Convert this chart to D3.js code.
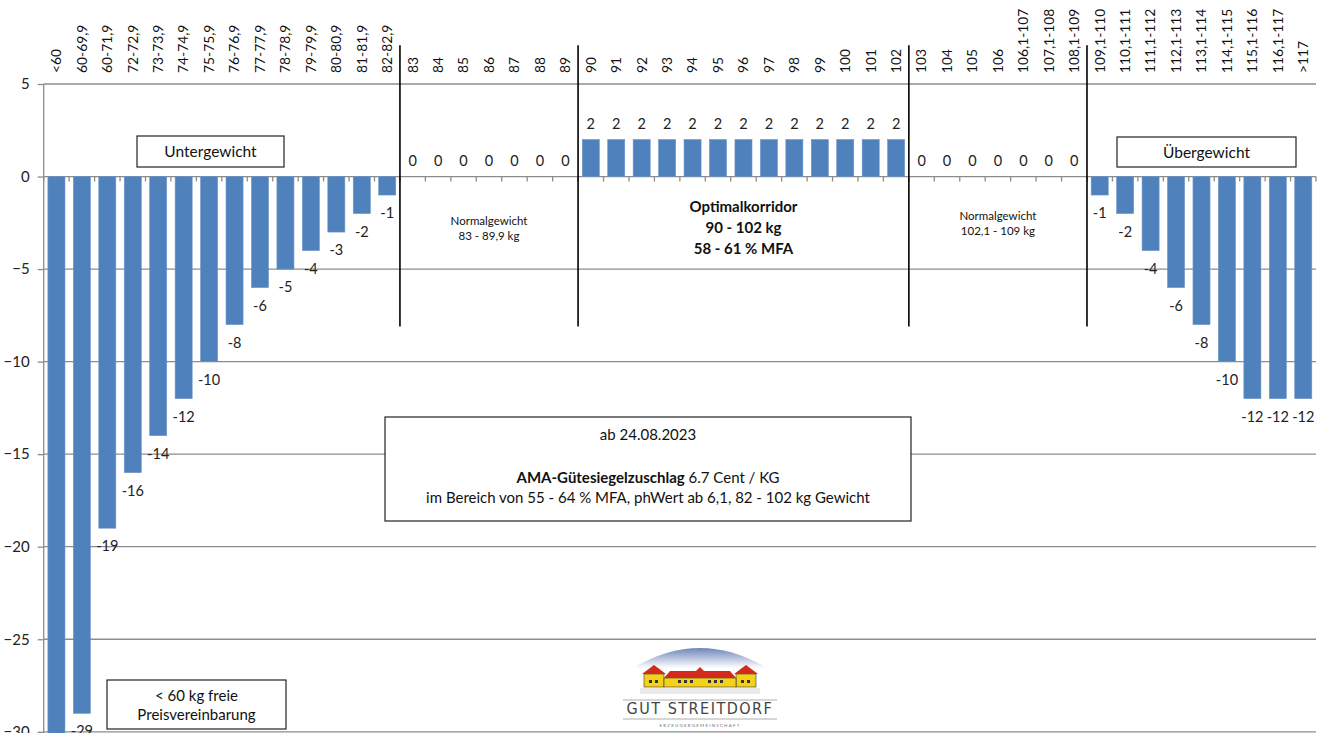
<!DOCTYPE html>
<html>
<head>
<meta charset="utf-8">
<script src="https://cdn.jsdelivr.net/npm/d3@7"></script>
<style>
  body { margin: 0; background: #fff; }
  svg { display: block; font-family: Lato, "Open Sans", sans-serif; }
</style>
</head>
<body>
<svg id="canvas"></svg>
<script>
// Gewichtsklassen (kg) and Abzug/Zuschlag per class
const categories = [
  '<60', '60-69,9', '60-71,9', '72-72,9', '73-73,9', '74-74,9', '75-75,9', '76-76,9',
  '77-77,9', '78-78,9', '79-79,9', '80-80,9', '81-81,9', '82-82,9',
  '83', '84', '85', '86', '87', '88', '89',
  '90', '91', '92', '93', '94', '95', '96', '97', '98', '99', '100', '101', '102',
  '103', '104', '105', '106', '106,1-107', '107,1-108', '108,1-109',
  '109,1-110', '110,1-111', '111,1-112', '112,1-113', '113,1-114', '114,1-115',
  '115,1-116', '116,1-117', '>117'
];
const values = [
  -35, -29, -19, -16, -14, -12, -10, -8, -6, -5, -4, -3, -2, -1,
  0, 0, 0, 0, 0, 0, 0,
  2, 2, 2, 2, 2, 2, 2, 2, 2, 2, 2, 2, 2,
  0, 0, 0, 0, 0, 0, 0,
  -1, -2, -4, -6, -8, -10, -12, -12, -12
];
const yTicks = [5, 0, -5, -10, -15, -20, -25, -30];
// category index where a zone boundary line is drawn
const zoneBreaks = [14, 21, 34, 41];

let width = 1325;
let height = 733;

let canvas = d3.select('#canvas');
canvas.attr('width', width).attr('height', height);

let xScale = d3.scaleBand()
    .domain(categories)
    .range([43.7, 1316])
    .paddingInner(0.33)
    .paddingOuter(0.165);

let yScale = d3.scaleLinear()
    .domain([5, -30])
    .range([84, 731.8]);

const step = xScale.step();
const x0 = xScale.range()[0];
const boundary = (i) => x0 + i * step;

// gridlines
canvas.append('g')
    .selectAll('line')
    .data(yTicks)
    .enter()
    .append('line')
    .attr('x1', x0)
    .attr('x2', xScale.range()[1])
    .attr('y1', (d) => yScale(d))
    .attr('y2', (d) => yScale(d))
    .attr('stroke', '#8c8c8c')
    .attr('stroke-width', 1.3);

// y axis
let yAxis = d3.axisLeft(yScale)
    .tickValues(yTicks)
    .tickSizeInner(6)
    .tickSizeOuter(0)
    .tickPadding(8);

let yG = canvas.append('g')
    .attr('transform', 'translate(' + x0 + ', 0)')
    .call(yAxis);
yG.select('.domain').attr('stroke', '#8c8c8c').attr('stroke-width', 1.3)
    .attr('d', 'M0,' + yScale(5) + 'V' + height);
yG.selectAll('.tick line').attr('stroke', '#8c8c8c').attr('stroke-width', 1.3);
yG.selectAll('.tick text').attr('font-size', 15).attr('fill', '#222')
    .attr('font-family', 'Lato, sans-serif');

// small ticks along zero line between categories
canvas.append('g')
    .selectAll('line')
    .data(d3.range(0, categories.length + 1))
    .enter()
    .append('line')
    .attr('x1', (i) => boundary(i))
    .attr('x2', (i) => boundary(i))
    .attr('y1', yScale(0))
    .attr('y2', yScale(0) + 5)
    .attr('stroke', '#8c8c8c')
    .attr('stroke-width', 1.3);

// bars
canvas.append('g')
    .selectAll('rect')
    .data(values)
    .enter()
    .append('rect')
    .attr('x', (d, i) => xScale(categories[i]))
    .attr('width', xScale.bandwidth())
    .attr('y', (d) => yScale(Math.max(0, d)))
    .attr('height', (d) => Math.abs(yScale(d) - yScale(0)))
    .attr('fill', '#4f81bd')
    .attr('stroke', '#6d95c9')
    .attr('stroke-width', 0.6);

// value labels
canvas.append('g')
    .selectAll('text')
    .data(values)
    .enter()
    .append('text')
    .attr('x', (d, i) => xScale(categories[i]) + xScale.bandwidth() / 2)
    .attr('y', (d) => d < 0 ? yScale(d) + 18 : yScale(d) - 16)
    .attr('dy', '0.35em')
    .attr('text-anchor', 'middle')
    .attr('font-size', 14.5)
    .attr('fill', '#222')
    .text((d) => d);

// category labels, rotated
canvas.append('g')
    .selectAll('text')
    .data(categories)
    .enter()
    .append('text')
    .attr('transform', (d) => 'translate(' + (xScale(d) + xScale.bandwidth() / 2) + ',73) rotate(-90)')
    .attr('dy', '0.35em')
    .attr('text-anchor', 'start')
    .attr('font-size', 13.8)
    .attr('fill', '#111')
    .text((d) => d);

// zone boundary lines
canvas.append('g')
    .selectAll('line')
    .data(zoneBreaks)
    .enter()
    .append('line')
    .attr('x1', (i) => boundary(i))
    .attr('x2', (i) => boundary(i))
    .attr('y1', yScale(7.1))
    .attr('y2', yScale(-8.1))
    .attr('stroke', '#000')
    .attr('stroke-width', 1.6);

// zone texts
function multiText (cx, cy, lines, size, weight, lh) {
    let t = canvas.append('text')
        .attr('text-anchor', 'middle')
        .attr('font-size', size)
        .attr('font-weight', weight)
        .attr('fill', '#111');
    lines.forEach((l, k) => {
        t.append('tspan').attr('x', cx).attr('y', cy + k * lh).attr('dy', '0.35em').text(l);
    });
    return t;
}

multiText((boundary(14) + boundary(21)) / 2, 221, ['Normalgewicht', '83 - 89,9 kg'], 11.5, 400, 15);
multiText((boundary(21) + boundary(34)) / 2, 207, ['Optimalkorridor', '90 - 102 kg', '58 - 61 % MFA'], 15, 700, 21);
multiText((boundary(34) + boundary(41)) / 2, 216, ['Normalgewicht', '102,1 - 109 kg'], 11.5, 400, 15);

// boxed notes
function box (x, y, w, h) {
    canvas.append('rect')
        .attr('x', x).attr('y', y).attr('width', w).attr('height', h)
        .attr('fill', '#fff').attr('stroke', '#222').attr('stroke-width', 1.2);
}

box(137, 136, 147, 31);
multiText(210.5, 152, ['Untergewicht'], 15.5, 400, 0);

box(1117, 137, 179, 30);
multiText(1206.5, 153, ['Übergewicht'], 15.5, 400, 0);

box(107, 680, 179, 49);
multiText(196.5, 696, ['< 60 kg freie', 'Preisvereinbarung'], 15, 400, 19);

box(385, 417, 526, 104);
multiText(648, 435, ['ab 24.08.2023'], 15, 400, 0);
let ama = canvas.append('text')
    .attr('x', 648).attr('y', 478).attr('dy', '0.35em')
    .attr('text-anchor', 'middle').attr('font-size', 15).attr('fill', '#111');
ama.append('tspan').attr('font-weight', 700).text('AMA-Gütesiegelzuschlag');
ama.append('tspan').text(' 6.7 Cent / KG');
multiText(648, 498, ['im Bereich von 55 - 64 % MFA, phWert ab 6,1, 82 - 102 kg Gewicht'], 15, 400, 0);

// logo
let logo = canvas.append('g').attr('transform', 'translate(700, 690)');
let defs = canvas.append('defs');
let grad = defs.append('linearGradient').attr('id', 'sky').attr('x1', 0).attr('y1', 0).attr('x2', 0).attr('y2', 1);
grad.append('stop').attr('offset', 0).attr('stop-color', '#6f86b8');
grad.append('stop').attr('offset', 1).attr('stop-color', '#ffffff');
logo.append('rect').attr('x', -82).attr('y', -45).attr('width', 164).attr('height', 45).attr('fill', '#fff');
logo.append('path')
    .attr('d', 'M-67,-22 Q0,-62 67,-22 Z')
    .attr('fill', 'url(#sky)');
// buildings
logo.append('rect').attr('x', -56).attr('y', -16).attr('width', 20).attr('height', 13).attr('fill', '#f5d21a').attr('stroke', '#333').attr('stroke-width', 0.6);
logo.append('rect').attr('x', 36).attr('y', -16).attr('width', 20).attr('height', 13).attr('fill', '#f5d21a').attr('stroke', '#333').attr('stroke-width', 0.6);
logo.append('rect').attr('x', -36).attr('y', -12).attr('width', 72).attr('height', 9).attr('fill', '#f5d21a').attr('stroke', '#333').attr('stroke-width', 0.6);
logo.append('path').attr('d', 'M-58,-16 L-46,-25 L-34,-16 Z').attr('fill', '#d42a1e');
logo.append('path').attr('d', 'M34,-16 L46,-25 L58,-16 Z').attr('fill', '#d42a1e');
logo.append('path').attr('d', 'M-36,-12 L-30,-19 L30,-19 L36,-12 Z').attr('fill', '#d42a1e');
logo.append('path').attr('d', 'M-4,-19 L0,-23 L4,-19 Z').attr('fill', '#d42a1e');
[-51, -45, 41, 47, -22, -16, -10, 8, 14, 20].forEach((wx) => {
    logo.append('rect').attr('x', wx).attr('y', -10).attr('width', 3).attr('height', 3).attr('fill', '#333');
});
[-2, 0, 2].forEach((k) => {
    logo.append('line').attr('x1', -60).attr('x2', 60).attr('y1', k + 1).attr('y2', k + 1)
        .attr('stroke', '#bbb').attr('stroke-width', 0.6);
});
logo.append('line').attr('x1', -77).attr('x2', 77).attr('y1', 10).attr('y2', 10).attr('stroke', '#999').attr('stroke-width', 0.8);
logo.append('line').attr('x1', -77).attr('x2', 77).attr('y1', 29).attr('y2', 29).attr('stroke', '#999').attr('stroke-width', 0.8);
logo.append('text').attr('x', 0).attr('y', 24).attr('text-anchor', 'middle')
    .attr('font-size', 16).attr('letter-spacing', 1.5).attr('fill', '#444')
    .attr('font-family', '"DejaVu Sans Condensed", "Liberation Sans Narrow", sans-serif')
    .attr('font-weight', 300)
    .text('GUT STREITDORF');
logo.append('text').attr('x', 0).attr('y', 37).attr('text-anchor', 'middle')
    .attr('font-size', 4.5).attr('letter-spacing', 1.2).attr('fill', '#777')
    .text('ERZEUGERGEMEINSCHAFT');
</script>
</body>
</html>
